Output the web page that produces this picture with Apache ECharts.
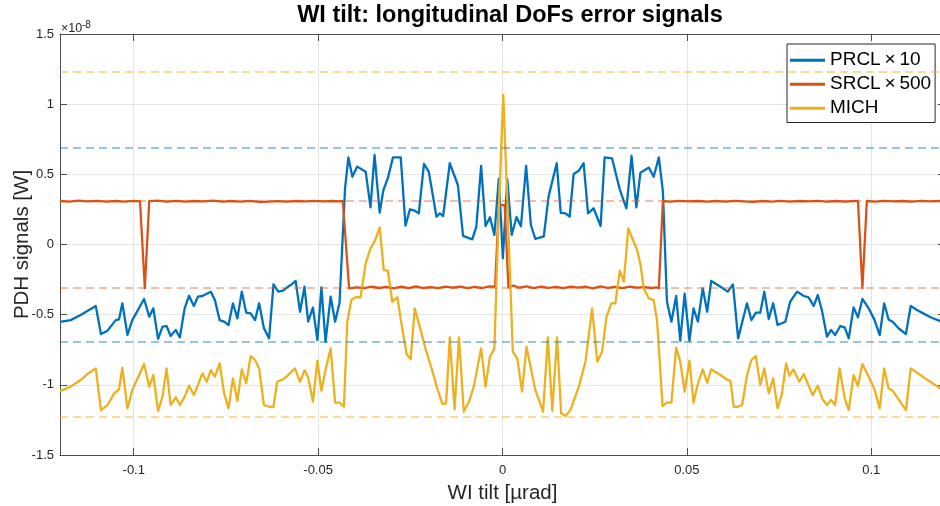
<!DOCTYPE html>
<html>
<head>
<meta charset="utf-8">
<script src="https://cdn.jsdelivr.net/npm/echarts@6/dist/echarts.min.js"></script>
<style>
html,body{margin:0;padding:0;background:#fff;}
#chart{width:940px;height:506px;}
</style>
</head>
<body>
<div id="chart"></div>
<script>
// Values are in units of 1e-8 W (axis shows ×10^-8); x in µrad
const titleText = 'WI tilt: longitudinal DoFs error signals';
const xName = 'WI tilt [µrad]';
const yName = 'PDH signals [W]';
const seriesNames = ['PRCL\u2009×\u200910', 'SRCL\u2009×\u2009500', 'MICH'];
const seriesColors = ['#0072BD', '#D95319', '#EDB120'];
const limitColors = ['rgba(0,114,189,0.55)', 'rgba(217,83,25,0.5)', 'rgba(237,177,32,0.6)'];
const prclLimits = [0.69, -0.69];
const srclLimits = [0.31, -0.31];
const michLimits = [1.23, -1.23];

const prcl = [
[-0.1200,-0.552],[-0.1171,-0.539],[-0.1144,-0.502],[-0.1103,-0.438],[-0.1089,-0.638],[-0.1071,-0.614],
[-0.1049,-0.539],[-0.1040,-0.534],[-0.1031,-0.419],[-0.1017,-0.645],[-0.1004,-0.539],[-0.0972,-0.388],
[-0.0958,-0.514],[-0.0947,-0.455],[-0.0934,-0.673],[-0.0922,-0.586],[-0.0911,-0.581],[-0.0900,-0.652],
[-0.0886,-0.609],[-0.0875,-0.662],[-0.0862,-0.455],[-0.0850,-0.365],[-0.0837,-0.438],[-0.0826,-0.372],
[-0.0814,-0.367],[-0.0791,-0.336],[-0.0780,-0.396],[-0.0767,-0.539],[-0.0755,-0.550],[-0.0743,-0.574],
[-0.0731,-0.419],[-0.0719,-0.526],[-0.0707,-0.336],[-0.0695,-0.486],[-0.0683,-0.491],[-0.0671,-0.539],
[-0.0660,-0.419],[-0.0647,-0.597],[-0.0633,-0.669],[-0.0621,-0.284],[-0.0608,-0.336],[-0.0595,-0.329],
[-0.0584,-0.305],[-0.0572,-0.284],[-0.0561,-0.260],[-0.0549,-0.479],[-0.0537,-0.301],[-0.0527,-0.550],
[-0.0514,-0.450],[-0.0502,-0.681],[-0.0491,-0.305],[-0.0480,-0.693],[-0.0466,-0.372],[-0.0454,-0.550],
[-0.0442,-0.415],[-0.0427,0.400],[-0.0418,0.620],[-0.0407,0.483],[-0.0394,0.555],[-0.0371,0.519],
[-0.0358,0.265],[-0.0347,0.638],[-0.0333,0.227],[-0.0323,0.388],[-0.0311,0.472],[-0.0297,0.621],
[-0.0276,0.621],[-0.0263,0.134],[-0.0251,0.251],[-0.0238,0.241],[-0.0227,0.222],[-0.0213,0.574],
[-0.0200,0.519],[-0.0179,0.198],[-0.0170,0.222],[-0.0161,0.203],[-0.0143,0.579],[-0.0121,0.424],
[-0.0107,0.061],[-0.0082,0.037],[-0.0071,0.127],[-0.0058,0.560],[-0.0046,0.132],[-0.0034,0.194],
[-0.0022,0.068],[-0.0010,0.467],[0.0001,-0.098],[0.0013,0.465],[0.0025,0.068],[0.0038,0.196],
[0.0050,0.130],[0.0064,0.560],[0.0077,0.139],[0.0089,0.040],[0.0112,0.058],[0.0125,0.343],
[0.0147,0.579],[0.0158,0.225],[0.0171,0.222],[0.0182,0.198],[0.0193,0.502],[0.0207,0.526],
[0.0220,0.579],[0.0232,0.222],[0.0247,0.258],[0.0266,0.132],[0.0277,0.621],[0.0297,0.614],
[0.0318,0.393],[0.0336,0.258],[0.0350,0.631],[0.0363,0.265],[0.0374,0.512],[0.0397,0.548],
[0.0410,0.483],[0.0424,0.621],[0.0435,0.376],[0.0446,-0.408],[0.0458,-0.550],[0.0471,-0.367],
[0.0482,-0.686],[0.0494,-0.350],[0.0507,-0.686],[0.0518,-0.455],[0.0530,-0.550],[0.0543,-0.312],
[0.0555,-0.479],[0.0566,-0.260],[0.0591,-0.301],[0.0611,-0.336],[0.0625,-0.284],[0.0639,-0.669],
[0.0663,-0.419],[0.0675,-0.539],[0.0687,-0.486],[0.0699,-0.486],[0.0710,-0.336],[0.0722,-0.531],
[0.0734,-0.419],[0.0746,-0.574],[0.0767,-0.550],[0.0780,-0.408],[0.0799,-0.336],[0.0817,-0.367],
[0.0830,-0.377],[0.0844,-0.438],[0.0855,-0.360],[0.0866,-0.467],[0.0880,-0.657],[0.0891,-0.609],
[0.0902,-0.645],[0.0916,-0.581],[0.0928,-0.590],[0.0939,-0.669],[0.0952,-0.448],[0.0964,-0.519],
[0.0976,-0.388],[0.0993,-0.455],[0.1009,-0.539],[0.1023,-0.645],[0.1035,-0.419],[0.1047,-0.534],
[0.1058,-0.550],[0.1074,-0.597],[0.1094,-0.638],[0.1107,-0.438],[0.1124,-0.467],[0.1146,-0.498],
[0.1164,-0.522],[0.1187,-0.546],[0.1200,-0.552]
];

const srcl = [
[-0.1200,0.310],[-0.1175,0.306],[-0.1150,0.312],[-0.1125,0.307],[-0.1100,0.311],[-0.1075,0.305],
[-0.1050,0.310],[-0.1025,0.306],[-0.1000,0.311],[-0.0983,0.308],[-0.0970,-0.312],[-0.0958,0.309],
[-0.0935,0.313],[-0.0910,0.306],[-0.0885,0.311],[-0.0860,0.305],[-0.0835,0.310],[-0.0810,0.307],
[-0.0785,0.312],[-0.0760,0.305],[-0.0735,0.310],[-0.0710,0.306],[-0.0685,0.311],[-0.0660,0.303],
[-0.0635,0.306],[-0.0610,0.309],[-0.0585,0.305],[-0.0560,0.310],[-0.0535,0.308],[-0.0510,0.311],
[-0.0485,0.307],[-0.0460,0.310],[-0.0445,0.308],[-0.0433,0.310],[-0.0416,-0.312],[-0.0395,-0.305],
[-0.0375,-0.311],[-0.0355,-0.300],[-0.0335,-0.310],[-0.0315,-0.302],[-0.0295,-0.312],[-0.0275,-0.300],
[-0.0255,-0.311],[-0.0235,-0.299],[-0.0215,-0.310],[-0.0195,-0.303],[-0.0175,-0.311],[-0.0155,-0.300],
[-0.0135,-0.308],[-0.0115,-0.301],[-0.0095,-0.311],[-0.0075,-0.302],[-0.0055,-0.310],[-0.0035,-0.298],
[-0.0020,-0.300],[-0.0010,0.280],[0.0006,0.280],[0.0016,-0.305],[0.0030,-0.292],[0.0045,-0.308],
[0.0065,-0.298],[0.0085,-0.311],[0.0105,-0.300],[0.0125,-0.309],[0.0145,-0.302],[0.0165,-0.311],
[0.0185,-0.300],[0.0205,-0.308],[0.0225,-0.301],[0.0245,-0.312],[0.0265,-0.299],[0.0285,-0.309],
[0.0305,-0.302],[0.0325,-0.311],[0.0345,-0.300],[0.0365,-0.308],[0.0385,-0.303],[0.0405,-0.310],
[0.0418,-0.306],[0.0424,-0.312],[0.0435,0.310],[0.0455,0.306],[0.0480,0.311],[0.0505,0.307],
[0.0530,0.310],[0.0555,0.305],[0.0580,0.310],[0.0605,0.306],[0.0630,0.311],[0.0655,0.307],
[0.0680,0.304],[0.0705,0.310],[0.0730,0.306],[0.0755,0.311],[0.0780,0.305],[0.0805,0.310],
[0.0830,0.307],[0.0855,0.311],[0.0880,0.306],[0.0905,0.310],[0.0930,0.305],[0.0952,0.310],
[0.0964,0.309],[0.0976,-0.312],[0.0988,0.310],[0.1010,0.306],[0.1035,0.311],[0.1060,0.307],
[0.1085,0.310],[0.1110,0.305],[0.1135,0.311],[0.1160,0.307],[0.1185,0.310],[0.1200,0.309]
];

const mich = [
[-0.1200,-1.045],[-0.1171,-1.013],[-0.1144,-0.966],[-0.1126,-0.923],[-0.1103,-0.883],[-0.1089,-1.180],
[-0.1071,-1.144],[-0.1053,-1.061],[-0.1040,-1.033],[-0.1031,-0.878],[-0.1017,-1.168],[-0.1004,-1.037],
[-0.0972,-0.852],[-0.0958,-1.013],[-0.0947,-0.930],[-0.0934,-1.185],[-0.0922,-1.084],[-0.0911,-0.883],
[-0.0900,-1.144],[-0.0886,-1.089],[-0.0875,-1.144],[-0.0862,-1.084],[-0.0850,-1.006],[-0.0837,-1.073],
[-0.0826,-1.001],[-0.0814,-0.918],[-0.0802,-0.978],[-0.0791,-0.895],[-0.0780,-0.942],[-0.0767,-0.847],
[-0.0755,-1.061],[-0.0743,-1.168],[-0.0731,-0.954],[-0.0719,-1.115],[-0.0707,-0.890],[-0.0695,-0.989],
[-0.0683,-0.795],[-0.0671,-0.823],[-0.0660,-0.883],[-0.0647,-1.144],[-0.0633,-1.156],[-0.0621,-1.156],
[-0.0611,-0.978],[-0.0595,-0.961],[-0.0584,-0.937],[-0.0563,-0.883],[-0.0549,-0.978],[-0.0537,-0.895],
[-0.0527,-0.947],[-0.0514,-1.120],[-0.0502,-0.828],[-0.0491,-1.042],[-0.0480,-0.895],[-0.0466,-0.740],
[-0.0454,-1.127],[-0.0442,-1.127],[-0.0430,-1.156],[-0.0421,-0.550],[-0.0410,-0.396],[-0.0398,-0.376],
[-0.0385,-0.376],[-0.0371,-0.134],[-0.0358,-0.027],[-0.0347,0.020],[-0.0333,0.120],[-0.0322,-0.182],
[-0.0311,-0.187],[-0.0299,-0.408],[-0.0285,-0.376],[-0.0275,-0.550],[-0.0260,-0.780],[-0.0249,-0.818],
[-0.0238,-0.455],[-0.0222,-0.609],[-0.0209,-0.740],[-0.0191,-0.895],[-0.0177,-1.025],[-0.0163,-1.137],
[-0.0153,-1.132],[-0.0143,-0.662],[-0.0130,-1.175],[-0.0118,-0.662],[-0.0105,-1.192],[-0.0091,-1.121],
[-0.0078,-1.013],[-0.0058,-0.740],[-0.0046,-1.013],[-0.0034,-0.800],[-0.0022,-0.740],[-0.0010,0.246],
[0.0002,1.066],[0.0014,0.246],[0.0028,-0.764],[0.0040,-0.811],[0.0053,-1.049],[0.0065,-0.728],
[0.0076,-0.871],[0.0089,-1.037],[0.0101,-1.121],[0.0110,-1.192],[0.0123,-0.662],[0.0135,-1.185],
[0.0148,-0.662],[0.0159,-1.203],[0.0171,-1.222],[0.0184,-1.180],[0.0207,-1.013],[0.0225,-0.835],
[0.0243,-0.455],[0.0257,-0.835],[0.0270,-0.764],[0.0282,-0.515],[0.0295,-0.420],[0.0306,-0.420],
[0.0318,-0.187],[0.0329,-0.265],[0.0341,0.115],[0.0354,0.032],[0.0365,-0.039],[0.0374,-0.140],
[0.0383,-0.312],[0.0397,-0.384],[0.0410,-0.396],[0.0419,-0.539],[0.0425,-0.776],[0.0434,-1.151],
[0.0446,-1.127],[0.0458,-1.127],[0.0471,-0.735],[0.0482,-0.835],[0.0494,-1.049],[0.0507,-0.828],
[0.0518,-1.127],[0.0530,-0.989],[0.0543,-0.890],[0.0555,-0.985],[0.0566,-0.890],[0.0591,-0.930],
[0.0611,-0.966],[0.0618,-0.970],[0.0627,-1.156],[0.0639,-1.156],[0.0650,-1.144],[0.0663,-0.930],
[0.0675,-0.823],[0.0687,-0.795],[0.0699,-1.001],[0.0710,-0.883],[0.0722,-1.061],[0.0734,-0.954],
[0.0746,-1.168],[0.0758,-1.061],[0.0769,-0.847],[0.0778,-0.937],[0.0789,-0.890],[0.0805,-0.978],
[0.0817,-0.923],[0.0841,-1.073],[0.0855,-1.006],[0.0868,-1.104],[0.0880,-1.144],[0.0891,-1.108],
[0.0902,-1.144],[0.0914,-0.883],[0.0928,-1.096],[0.0939,-1.180],[0.0952,-0.930],[0.0964,-1.008],
[0.0976,-0.852],[0.0993,-0.942],[0.1009,-1.033],[0.1023,-1.168],[0.1035,-0.883],[0.1047,-1.025],
[0.1058,-1.042],[0.1074,-1.104],[0.1094,-1.180],[0.1107,-0.883],[0.1124,-0.914],[0.1146,-0.954],
[0.1164,-0.985],[0.1187,-1.025],[0.1200,-1.040]
];

const xMin = -0.12, xMax = 0.12;
const yMin = -1.5, yMax = 1.5, yStep = 0.5;

const FONT = '"Liberation Sans", Arial, Helvetica, sans-serif';
const axisColor = '#4d4d4d';
const textColor = '#262626';

function makeSeries(name, data, color, limits, limitColor) {
  return {
    name: name, type: 'line', data: data, showSymbol: false, symbol: 'none',
    lineStyle: { color: color, width: 2.3, join: 'round' },
    itemStyle: { color: color },
    animation: false,
    markLine: {
      silent: true, symbol: 'none', animation: false,
      label: { show: false },
      lineStyle: { color: limitColor, type: [8, 5], width: 1.5 },
      emphasis: { disabled: true },
      data: limits.map(v => ({ yAxis: v }))
    }
  };
}

const chart = echarts.init(document.getElementById('chart'), null, { renderer: 'canvas' });
const option = {
  animation: false,
  backgroundColor: '#fff',
  textStyle: { fontFamily: FONT },
  grid: { left: 60, right: -5, top: 34, bottom: 51, containLabel: false, outerBoundsMode: 'none' },
  legend: {
    orient: 'vertical', left: 787, top: 44,
    backgroundColor: '#fff', borderColor: '#262626', borderWidth: 1, borderRadius: 0,
    padding: [6, 4, 4, 3], itemGap: 3.5, itemWidth: 35, itemHeight: 3, icon: 'rect',
    textStyle: { fontFamily: FONT, fontSize: 19, color: '#000', lineHeight: 20.5 },
    data: seriesNames, selectedMode: false
  },
  xAxis: [{
    type: 'value', min: xMin, max: xMax, splitNumber: 5, position: 'bottom',
    axisLine: { show: true, onZero: false, lineStyle: { color: axisColor, width: 1 } },
    axisTick: { show: true, inside: true, length: 7, lineStyle: { color: axisColor } },
    axisLabel: { color: textColor, fontSize: 13, margin: 9, fontFamily: FONT,
      formatter: v => (Math.abs(v) > 0.11 ? '' : String(+v.toFixed(3))) },
    splitLine: { show: true, lineStyle: { color: '#e4e4e4', width: 1 } },
    name: xName, nameLocation: 'middle', nameGap: 28, nameMoveOverlap: false,
    nameTextStyle: { fontSize: 20.5, color: textColor, fontFamily: FONT }
  }, {
    type: 'value', min: xMin, max: xMax, splitNumber: 5, position: 'top',
    axisLine: { show: true, onZero: false, lineStyle: { color: axisColor, width: 1 } },
    axisTick: { show: true, inside: true, length: 7, lineStyle: { color: axisColor } },
    axisLabel: { show: false }, splitLine: { show: false }
  }],
  yAxis: [{
    type: 'value', min: yMin, max: yMax, interval: yStep, position: 'left',
    axisLine: { show: true, onZero: false, lineStyle: { color: axisColor, width: 1 } },
    axisTick: { show: true, inside: true, length: 7, lineStyle: { color: axisColor } },
    axisLabel: { color: textColor, fontSize: 13, margin: 6, fontFamily: FONT },
    splitLine: { show: true, lineStyle: { color: '#e4e4e4', width: 1 } },
    name: yName, nameLocation: 'middle', nameGap: 27, nameRotate: 90, nameMoveOverlap: false,
    nameTextStyle: { fontSize: 20.5, color: textColor, fontFamily: FONT }
  }, {
    type: 'value', min: yMin, max: yMax, interval: yStep, position: 'right',
    axisLine: { show: true, onZero: false, lineStyle: { color: axisColor, width: 1 } },
    axisTick: { show: true, inside: true, length: 7, lineStyle: { color: axisColor } },
    axisLabel: { show: false }, splitLine: { show: false }
  }],
  graphic: [
    { type: 'text', x: 510, y: 16, z: 100,
      style: { text: titleText, font: 'bold 23.5px ' + FONT, fill: '#000', align: 'center', verticalAlign: 'middle' } },
    { type: 'text', x: 61, y: 35, z: 100,
      style: { text: '×10', font: '12.5px ' + FONT, fill: textColor, align: 'left', verticalAlign: 'bottom' } },
    { type: 'text', x: 82, y: 30, z: 100,
      style: { text: '-8', font: '10px ' + FONT, fill: textColor, align: 'left', verticalAlign: 'bottom' } }
  ],
  series: [
    makeSeries(seriesNames[0], prcl, seriesColors[0], prclLimits, limitColors[0]),
    makeSeries(seriesNames[1], srcl, seriesColors[1], srclLimits, limitColors[1]),
    makeSeries(seriesNames[2], mich, seriesColors[2], michLimits, limitColors[2])
  ]
};
chart.setOption(option);
</script>
</body>
</html>
